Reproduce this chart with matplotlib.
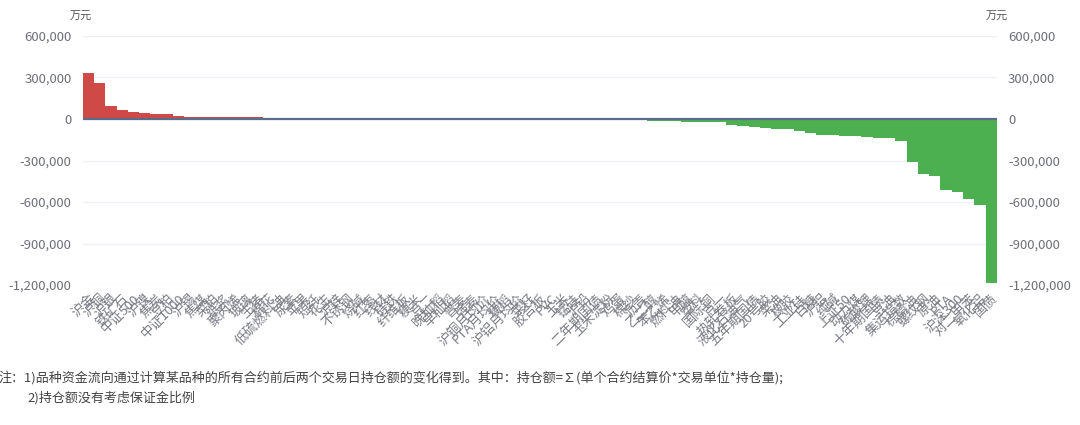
#品种资金流向 bar chart
#red = net inflow, green = net outflow, unit 万元

#importing libs
import numpy as np
import matplotlib
matplotlib.use('Agg')
import matplotlib.pyplot as plt
from matplotlib.ticker import FuncFormatter

plt.rcParams['font.family'] = ['Noto Sans CJK SC', 'DejaVu Sans']
plt.rcParams['axes.unicode_minus'] = False

# categories (sorted by flow, biggest inflow first)
names = ['沪金', '沪铜', '沪银', '铁矿石', '中证500', '沪镍', '焦炭', '豆粕', '中证1000', '沪锡',
         '焦煤', '菜粕', '纸浆', '聚丙烯', '玻璃', '生猪', '棉花', '低硫燃料油', '尿素', '苹果',
         '短纤', '花生', '沪锌', '不锈钢', '烧碱', '红枣', '线材', '硅铁', '纤维板', '粳米',
         '豆二', '晚籼稻', '早籼稻', '普麦', '强麦', '沪铜月均价', 'PTA月均价', '粳稻', '沪铝月均价', '菜籽',
         '胶合板', 'PVC', '玉米', '锰硅', '沪铅', '二年期国债', '玉米淀粉', '鸡蛋', '棉纱', '沥青',
         '乙二醇', '苯乙烯', '燃料油', '甲醇', '塑料', '国际铜', '豆一', '热轧卷板', '液化石油气', '五年期国债',
         '20号胶', '菜油', '橡胶', '工业硅', '白糖', '沪铝', '纯碱', '上证50', '动力煤', '碳酸锂',
         '十年期国债', '豆油', '集运指数', '棕榈油', '螺纹钢', '原油', 'PTA', '沪深300', '对二甲苯', '氧化铝',
         '国债']

# fund flow values, 万元
flows = [332000, 262000, 95000, 67000, 50000, 41000, 36000, 35000, 24000, 17000,
         16500, 16000, 15000, 14000, 12500, 12000, 7500, 7000, 5000, 3200,
         2600, 2100, 1800, 1500, 1200, 1000, 800, 650, 500, 380,
         260, 150, 60, -40, -150, -300, -500, -700, -900, -1200,
         -1500, -1900, -2500, -3500, -4800, -6000, -7000, -8000, -9000, -10500,
         -12500, -14000, -15000, -19000, -21000, -22000, -25000, -40000, -48000, -58000,
         -66000, -72000, -74000, -90000, -104000, -114000, -117000, -122000, -125000, -131000,
         -134000, -140000, -157000, -313000, -398000, -410000, -513000, -525000, -578000, -621000,
         -1188000]

y_ticks = [-1200000, -900000, -600000, -300000, 0, 300000, 600000]

red = '#cf4a46'
green = '#4caf50'
txt_gray = '#6e7079'

fig = plt.figure(figsize=(10.8, 4.25), dpi=100)
ax = fig.add_axes([0.0766, 0.3294, 0.8464, 0.5859])

x = np.arange(len(names))
vals = np.array(flows)
colors = [red if v >= 0 else green for v in vals]
ax.bar(x, vals, width=1.0, color=colors, linewidth=0, zorder=2)

#zero line
ax.axhline(0, color='#5b6b8c', linewidth=1.6, zorder=3)

ax.set_xlim(-0.5, len(names) - 0.5)
ax.set_ylim(y_ticks[0], y_ticks[-1])
ax.set_yticks(y_ticks)
ax.yaxis.set_major_formatter(FuncFormatter(lambda v, p: '{:,.0f}'.format(v)))
ax.grid(axis='y', color='#eef0f6', linewidth=1, zorder=0)
ax.set_axisbelow(True)
for s in ax.spines.values():
    s.set_visible(False)
ax.tick_params(axis='y', length=0, pad=8, labelsize=9.5, labelcolor=txt_gray)

ax.set_xticks(x)
ax.set_xticklabels(names, rotation=45, ha='right', rotation_mode='anchor',
                   fontsize=9.5, color='#7a7c85')
ax.tick_params(axis='x', length=0, pad=5)

#right axis with same scale
ax2 = ax.twinx()
ax2.set_ylim(ax.get_ylim())
ax2.set_yticks(y_ticks)
ax2.yaxis.set_major_formatter(FuncFormatter(lambda v, p: '{:,.0f}'.format(v)))
for s in ax2.spines.values():
    s.set_visible(False)
ax2.tick_params(axis='y', length=0, pad=8, labelsize=9.5, labelcolor=txt_gray)

#unit labels
fig.text(81 / 1080, 1 - 17 / 425, '万元', ha='center', va='center', fontsize=8, color='#555555')
fig.text(997 / 1080, 1 - 17 / 425, '万元', ha='center', va='center', fontsize=8, color='#555555')

#footnote
fig.text(-0.001, 1 - 378 / 425,
         '注：1)品种资金流向通过计算某品种的所有合约前后两个交易日持仓额的变化得到。其中：持仓额=∑(单个合约结算价*交易单位*持仓量);',
         ha='left', va='center', fontsize=9.4, color='#444444')
fig.text(27 / 1080, 1 - 398 / 425, '2)持仓额没有考虑保证金比例',
         ha='left', va='center', fontsize=9.4, color='#444444')

fig.savefig('out.png', dpi=100, facecolor='white')
